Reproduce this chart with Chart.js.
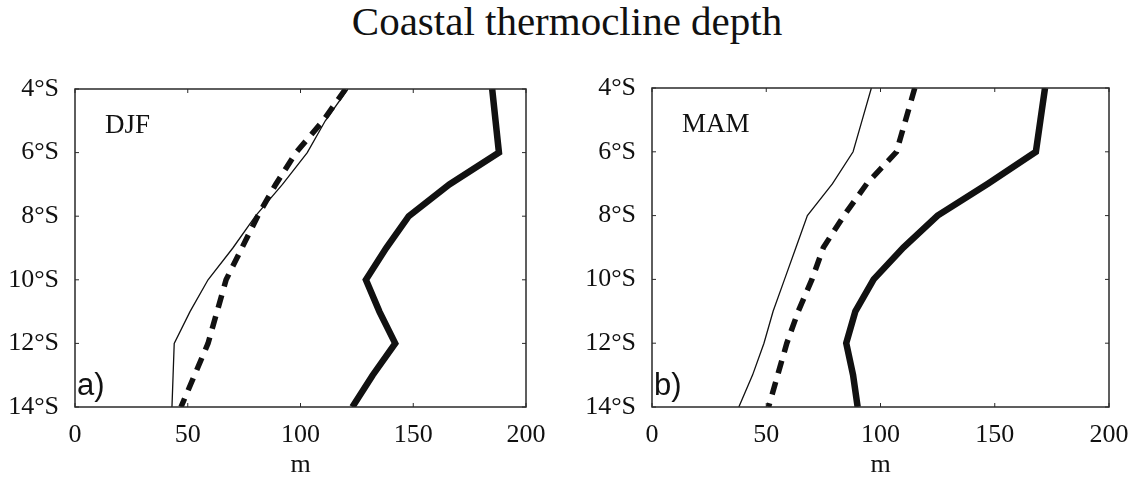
<!DOCTYPE html>
<html><head><meta charset="utf-8">
<script src="https://cdn.jsdelivr.net/npm/chart.js@4/dist/chart.umd.min.js"></script>
<style>
html,body{margin:0;padding:0;background:#fff;width:1134px;height:481px;overflow:hidden;position:relative}
#title{position:absolute;left:0;top:-4px;width:1134px;text-align:center;font-family:"Liberation Serif",serif;font-size:41px;line-height:50px;color:#111}
#ca{position:absolute;left:0;top:70px;width:560px;height:411px}
#cb{position:absolute;left:580px;top:70px;width:600px;height:411px}
</style></head><body>
<div id="title">Coastal thermocline depth</div>
<canvas id="ca" width="560" height="411"></canvas>
<canvas id="cb" width="600" height="411"></canvas>
<script>
// ---- data ----
const latitudes = [4, 5, 6, 7, 8, 9, 10, 11, 12, 13, 14];   // degrees South
const xTickValues = [0, 50, 100, 150, 200];
const yTickValues = [4, 6, 8, 10, 12, 14];
const xAxisLabel = 'm';
const chartTitle = 'Coastal thermocline depth';

const djfThin  = [121, 111, 103, 92, 80, 70, 59, 51, 44, 43.5, 43];
const djfDash  = [120, 110, 98, 89, 81, 74, 67, 63, 59, 53, 47];
const djfThick = [185, 186.5, 188, 166, 148, 138, 129, 135, 142, 132, 123];

const mamThin  = [96, 92, 88, 79, 68, 63, 58, 53, 49, 44, 38];
const mamDash  = [115, 111, 107, 94, 84, 75, 70, 64, 59, 55, 51];
const mamThick = [172, 170, 168, 147, 125, 110, 97, 89, 85, 88, 90];

const FONT = '"Liberation Serif", "Times New Roman", serif';
const INK = '#111';

function pts(vals) { return vals.map((v, i) => ({x: v, y: latitudes[i]})); }

const framePlugin = {
  id: 'frame',
  afterDatasetsDraw(chart, args, opts) {
    const {ctx, chartArea: a, scales: {x, y}} = chart;
    ctx.save();
    ctx.strokeStyle = '#2a2a2a';
    ctx.lineWidth = 1.5;
    ctx.strokeRect(a.left, a.top, a.right - a.left, a.bottom - a.top);
    ctx.lineWidth = 1;
    const tl = 4;
    const ln = (x1, y1, x2, y2) => { ctx.beginPath(); ctx.moveTo(x1, y1); ctx.lineTo(x2, y2); ctx.stroke(); };
    y.ticks.forEach(t => { const py = y.getPixelForValue(t.value); ln(a.left, py, a.left + tl, py); ln(a.right, py, a.right - tl, py); });
    x.ticks.forEach(t => { const px = x.getPixelForValue(t.value); ln(px, a.bottom, px, a.bottom - tl); ln(px, a.top, px, a.top + tl); });
    ctx.fillStyle = INK;
    ctx.textBaseline = 'alphabetic';
    ctx.textAlign = 'left';
    ctx.font = '27px ' + FONT;
    ctx.fillText(opts.season, a.left + 30, a.top + 44);
    ctx.font = '31px "Liberation Sans", Arial, sans-serif';
    ctx.fillText(opts.panel, a.left + 2, a.bottom - 12);
    ctx.restore();
  }
};

function makeChart(id, thin, dash, thick, season, panel, yWidth, pad) {
  return new Chart(document.getElementById(id), {
    type: 'scatter',
    data: {
      datasets: [
        {data: pts(thin), showLine: true, borderColor: INK, borderWidth: 1.3, pointRadius: 0, tension: 0, fill: false},
        {data: pts(dash), showLine: true, borderColor: INK, borderWidth: 5.5, borderDash: [13, 9], borderCapStyle: 'butt', pointRadius: 0, tension: 0, fill: false},
        {data: pts(thick), showLine: true, borderColor: INK, borderWidth: 6.5, borderJoinStyle: 'miter', pointRadius: 0, tension: 0, fill: false}
      ]
    },
    options: {
      responsive: false,
      animation: false,
      events: [],
      layout: {padding: pad},
      plugins: {legend: {display: false}, tooltip: {enabled: false}, frame: {season, panel}},
      scales: {
        x: {
          type: 'linear', min: 0, max: 200,
          afterBuildTicks(s) { s.ticks = xTickValues.map(v => ({value: v})); },
          ticks: {font: {family: FONT, size: 26}, color: INK, padding: 13, maxRotation: 0},
          grid: {display: false, drawTicks: false},
          border: {display: false},
          title: {display: true, text: xAxisLabel, font: {family: FONT, size: 26}, color: INK, padding: {top: 0, bottom: 0}},
          afterFit(s) { s.height = 74; s.paddingLeft = 0; s.paddingRight = 0; }
        },
        y: {
          type: 'linear', min: 4, max: 14, reverse: true,
          afterBuildTicks(s) { s.ticks = yTickValues.map(v => ({value: v})); },
          ticks: {font: {family: FONT, size: 26}, color: INK, padding: 16, callback: v => v + '°S'},
          grid: {display: false, drawTicks: false},
          border: {display: false},
          afterFit(s) { s.width = yWidth; s.paddingTop = 0; s.paddingBottom = 0; }
        }
      }
    },
    plugins: [framePlugin]
  });
}

document.getElementById('title').textContent = chartTitle;
makeChart('ca', djfThin, djfDash, djfThick, 'DJF', 'a)', 75, {top: 19, right: 34, bottom: 0, left: 0});
makeChart('cb', mamThin, mamDash, mamThick, 'MAM', 'b)', 72, {top: 18, right: 71, bottom: 0, left: 0});
</script>
</body></html>
